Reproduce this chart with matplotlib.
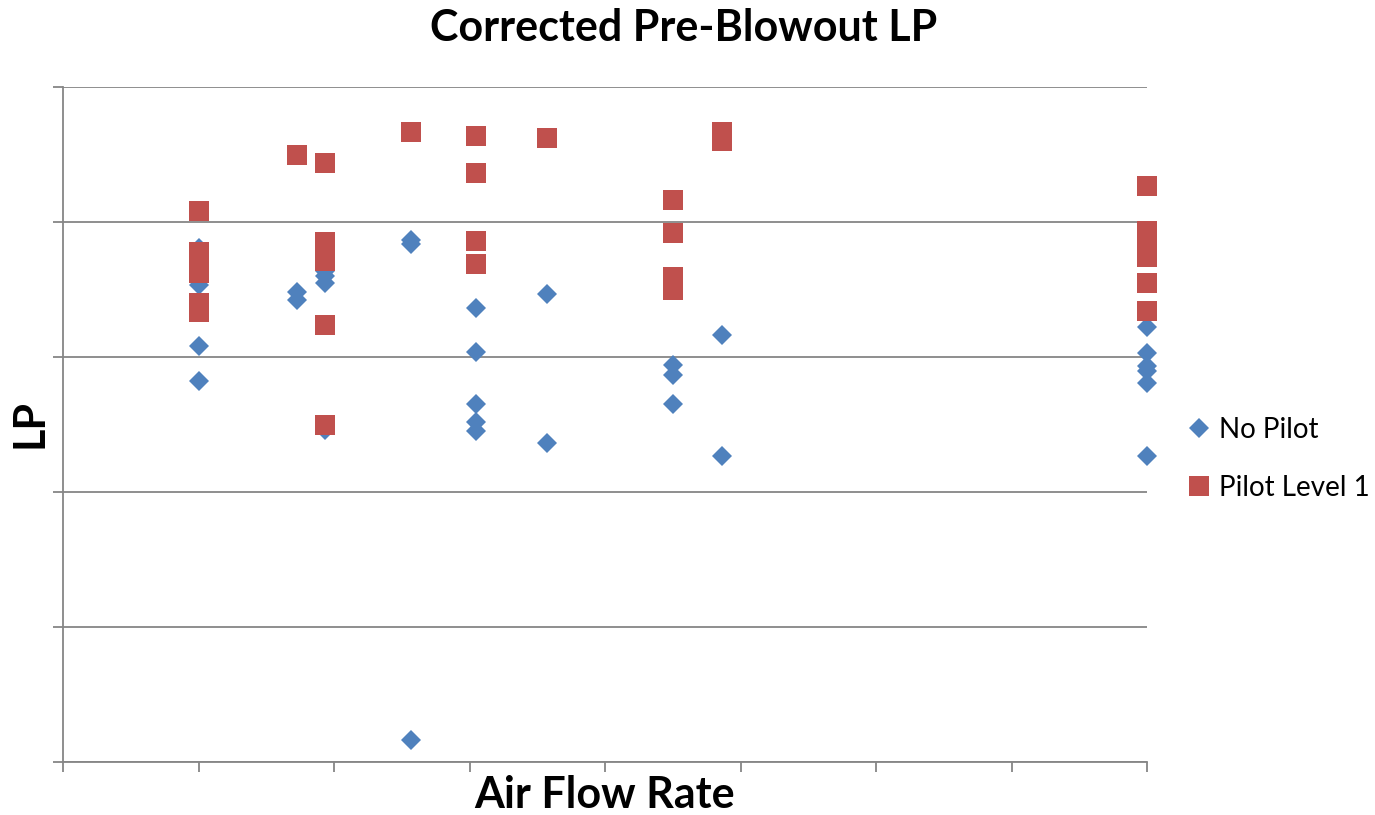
import matplotlib
matplotlib.use("Agg")
import matplotlib.pyplot as plt

# Data (axes have no tick labels, units are grid steps)
no_pilot_x = [1.0, 1.0, 1.0, 1.0,
              1.73, 1.73,
              1.93, 1.93, 1.93, 1.93,
              2.57, 2.57, 2.57,
              3.05, 3.05, 3.05, 3.05, 3.05,
              3.57, 3.57,
              4.50, 4.50, 4.50,
              4.86, 4.86,
              8.0, 8.0, 8.0, 8.0, 8.0, 8.0]
no_pilot_y = [3.81, 3.53, 3.08, 2.82,
              3.48, 3.42,
              3.64, 3.60, 3.55, 2.46,
              3.87, 3.84, 0.16,
              3.36, 3.04, 2.65, 2.52, 2.45,
              3.47, 2.36,
              2.94, 2.87, 2.65,
              3.16, 2.27,
              3.22, 3.03, 2.93, 2.90, 2.81, 2.27]

pilot1_x = [1.0, 1.0, 1.0, 1.0, 1.0, 1.0,
            1.73,
            1.93, 1.93, 1.93, 1.93, 1.93, 1.93,
            2.57,
            3.05, 3.05, 3.05, 3.05,
            3.57,
            4.50, 4.50, 4.50, 4.50,
            4.86, 4.86,
            8.0, 8.0, 8.0, 8.0, 8.0, 8.0]
pilot1_y = [4.08, 3.78, 3.70, 3.62, 3.40, 3.33,
            4.50,
            4.44, 3.85, 3.78, 3.71, 3.24, 2.50,
            4.67,
            4.64, 4.36, 3.86, 3.69,
            4.62,
            4.16, 3.92, 3.59, 3.50,
            4.67, 4.60,
            4.27, 3.93, 3.86, 3.74, 3.55, 3.34]

series_names = ["No Pilot", "Pilot Level 1"]
title = "Corrected Pre-Blowout LP"
xlabel = "Air Flow Rate"
ylabel = "LP"

blue = "#4F81BD"
red = "#C0504D"
grid_c = "#868686"

plt.rcParams['font.family'] = ['Lato', 'DejaVu Sans']

fig = plt.figure(figsize=(13.75, 8.15), dpi=100)
ax = fig.add_axes([63/1375, 53/815, (1147-63)/1375, (762-87)/815])

ax.plot(no_pilot_x, no_pilot_y, linestyle='none', marker='D', ms=10.5,
        color=blue, mew=0, label=series_names[0], clip_on=False)
ax.plot(pilot1_x, pilot1_y, linestyle='none', marker='s', ms=14.4,
        color=red, mew=0, label=series_names[1], clip_on=False)

ax.set_xlim(0, 8)
ax.set_ylim(0, 5)
ax.set_xticks(range(0, 9))
ax.set_yticks(range(0, 6))
ax.set_xticklabels([])
ax.set_yticklabels([])
ax.yaxis.grid(True, color=grid_c, linewidth=1.3)
ax.set_axisbelow(True)
for s in ['top', 'right']:
    ax.spines[s].set_visible(False)
for s in ['left', 'bottom']:
    ax.spines[s].set_color(grid_c)
    ax.spines[s].set_linewidth(1.3)
ax.tick_params(axis='both', direction='out', length=7, width=1.3, color=grid_c)

fig.text(684/1375, 1 - 28/815, title, ha='center', va='center',
         fontsize=31, fontweight='bold')
fig.text(605/1375, 1 - 795/815, xlabel, ha='center', va='center',
         fontsize=31, fontweight='bold')
fig.text(30/1375, 1 - 424/815, ylabel, ha='center', va='center',
         fontsize=31, fontweight='bold', rotation=90)

leg = ax.legend(loc='center left', bbox_to_anchor=(1191/1375, 1 - 459/815),
                bbox_transform=fig.transFigure, frameon=False, fontsize=20,
                handlelength=0.55, handletextpad=0.45, labelspacing=1.15,
                borderaxespad=0, borderpad=0)

fig.savefig("out.png", dpi=100)
